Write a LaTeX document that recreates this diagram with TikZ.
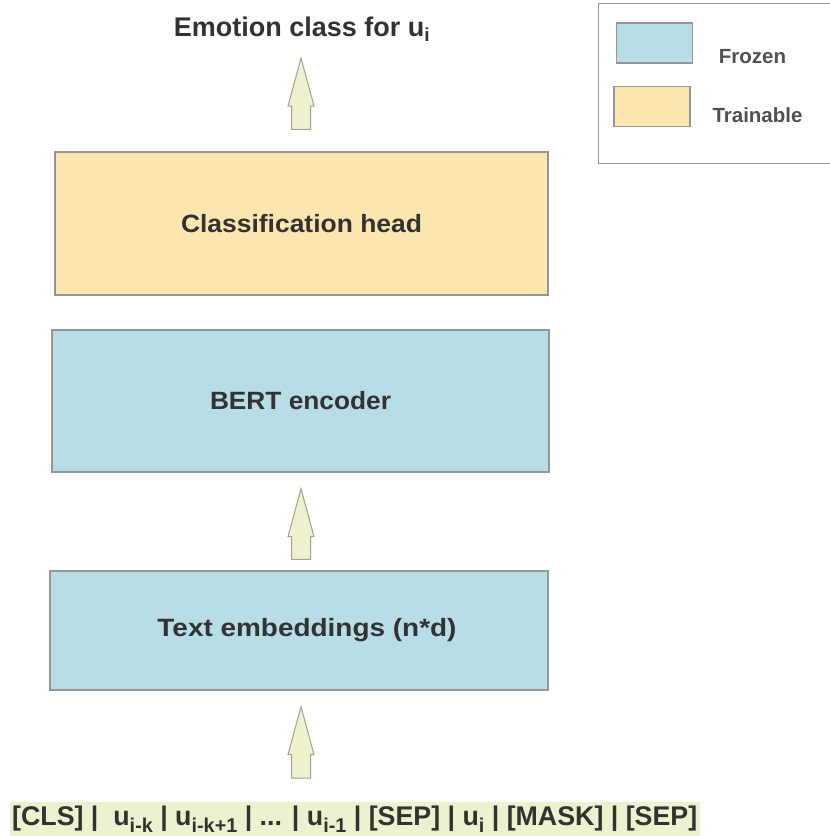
\documentclass[tikz,border=0pt]{standalone}
\usepackage{fontspec}
\usepackage{graphicx}
\setmainfont{Liberation Sans}
\usetikzlibrary{calc}

\definecolor{frozenblue}{RGB}{183,221,231}
\definecolor{trainorange}{RGB}{252,230,174}
\definecolor{arrowfill}{RGB}{240,242,206}
\definecolor{arrowedge}{RGB}{160,162,150}
\definecolor{tokenbg}{RGB}{236,241,206}
\definecolor{edgegray}{RGB}{150,150,150}
\definecolor{textgray}{RGB}{50,50,50}
\definecolor{legendtext}{RGB}{80,80,80}

% upward block arrow: #1 = middle of the shaft foot, #2 = tip
\newcommand\blockarrow[2]{%
  \draw[arrowpath] let \p1=#1, \p2=#2 in
    (\x1-9.5pt,\y1) -- (\x1-9.5pt,\y2-48pt) -- (\x1-13pt,\y2-48pt) --
    (\x1,\y2) -- (\x1+13pt,\y2-48pt) -- (\x1+9.5pt,\y2-48pt) --
    (\x1+9.5pt,\y1) -- cycle;}
% lowered index used in the token sequence
\newcommand\tokidx[1]{\raisebox{-7pt}{\fontsize{20}{20}\selectfont #1}}
% box label stretched to a given width
\newcommand\fitlabel[2]{\resizebox{#1}{\height}{#2}}

\begin{document}
\begin{tikzpicture}[x=1pt,y=-1pt,
  box/.style={draw=edgegray, line width=1.3pt, text=textgray, inner sep=0pt,
    font=\bfseries\fontsize{25}{30}\selectfont},
  boxlabel/.style={text=textgray, inner sep=0pt, font=\bfseries\fontsize{25}{30}\selectfont},
  arrowpath/.style={draw=arrowedge, fill=arrowfill, line width=1pt, line join=miter},
  swatch/.style={draw=edgegray, line width=1.2pt, minimum width=76, minimum height=40, inner sep=0pt},
  legendlabel/.style={text=legendtext, font=\bfseries\fontsize{20.5}{24}\selectfont, inner sep=0pt},
  title/.style={text=textgray, font=\bfseries\fontsize{27}{32}\selectfont, inner sep=0pt}]
\useasboundingbox (0,0) rectangle (830,836);

% main stack
\node[box, fill=trainorange, minimum width=493, minimum height=143] (head) at (301.5,223.5) {\fitlabel{241pt}{Classification head}};
\node[box, fill=frozenblue, minimum width=497, minimum height=142] (bert) at (300.5,401) {\fitlabel{181pt}{BERT encoder}};
\node[box, fill=frozenblue, minimum width=498, minimum height=119] (emb) at (299,630.5) {};
\node[boxlabel] (emblabel) at ($(emb.center)+(8,0)$) {\fitlabel{299pt}{Text embeddings (n*d)}};

% output label
\node[title, anchor=base] (out) at (302,36) {Emotion class for u\textsubscript{i}};

% input token sequence
\node[fill=tokenbg, inner sep=0pt, minimum width=690, minimum height=36, text=textgray, anchor=north west] (tokens) at (10,802) {};
\node[anchor=base west, inner sep=0pt, text=textgray] (tokentext) at (12,825)
  {\resizebox{685pt}{\height}{\bfseries\fontsize{27}{32}\selectfont [CLS] |\ \ u\tokidx{i-k} | u\tokidx{i-k+1} | ... | u\tokidx{i-1} | [SEP] | u\tokidx{i} | [MASK] | [SEP]}};

% arrows between the stages
\coordinate (a1foot) at ($(head.north)+(-0.5,-22)$);
\coordinate (a1tip) at ($(out.base)+(-1,22)$);
\blockarrow{(a1foot)}{(a1tip)}
\coordinate (a2foot) at ($(emb.north)+(2,-11)$);
\coordinate (a2tip) at ($(bert.south)+(0.5,16)$);
\blockarrow{(a2foot)}{(a2tip)}
\coordinate (a3foot) at ($(tokens.north west)+(291,-24)$);
\coordinate (a3tip) at ($(emb.south)+(2,16)$);
\blockarrow{(a3foot)}{(a3tip)}

% legend
\node[draw=edgegray, line width=1.3pt, minimum width=234, minimum height=160, inner sep=0pt, anchor=north west] (legend) at (598,3) {};
\node[swatch, fill=frozenblue] (frozensw) at (654.5,43) {};
\node[swatch, fill=trainorange] (trainsw) at (652,106.5) {};
\node[legendlabel] (frozenlbl) at (752.5,57) {Frozen};
\node[legendlabel] (trainlbl) at (757.5,115) {Trainable};
\end{tikzpicture}
\end{document}
